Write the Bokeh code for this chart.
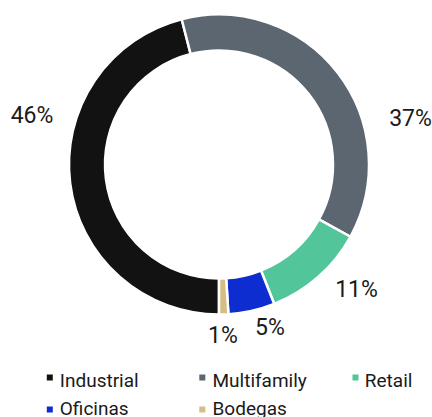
import math
from bokeh.plotting import figure
from bokeh.models import Range1d, ColumnDataSource
from bokeh.core.properties import value
from bokeh.embed import file_html
from bokeh.resources import INLINE

# ---- data ----
categories = ["Industrial", "Multifamily", "Retail", "Oficinas", "Bodegas"]
shares = [46, 37, 11, 5, 1]
label_texts = ["46%", "37%", "11%", "5%", "1%"]
colors = ["#121212", "#5b6670", "#52c59b", "#0d2dd0", "#d5be84"]

# ---- layout constants ----
W, H = 432, 417
CX, CY = 218.5, 253.0
R_OUT, R_IN = 150.0, 114.0
FONT = "Roboto"

p = figure(width=W, height=H, output_backend="svg", toolbar_location=None,
           x_range=Range1d(0, W), y_range=Range1d(0, H),
           x_axis_location=None, y_axis_location=None, min_border=0)
p.grid.visible = False
p.outline_line_color = None
p.background_fill_color = "white"
p.border_fill_color = "white"

total = float(sum(shares))
starts, ends = [], []
cum = 0.0
for s in shares:
    a0 = -math.pi / 2 - 2 * math.pi * cum / total
    cum += s
    a1 = -math.pi / 2 - 2 * math.pi * cum / total
    starts.append(a0)
    ends.append(a1)

src = ColumnDataSource(dict(start=starts, end=ends, color=colors, cat=categories))
p.annular_wedge(x=CX, y=CY, inner_radius=R_IN, outer_radius=R_OUT,
                start_angle="start", end_angle="end", direction="clock",
                fill_color="color", line_color="white", line_width=2.5, source=src)

# percentage labels (positions placed as in the reference)
label_x = [31.5, 410, 356, 269.5, 222.5]
label_y = [302, 299, 128, 90, 82]
p.text(x=label_x, y=label_y, text=label_texts, text_font=value(FONT),
       text_font_size="23px", text_color="#1a1a1a", text_align="center",
       text_baseline="alphabetic")

# legend
leg_sq_x = [49.3, 201.8, 355.0, 49.3, 201.8]
leg_sq_y = [40, 40, 40, 8, 8]
leg_tx_x = [59.3, 212.0, 364.3, 59.3, 212.0]
leg_tx_y = [37, 37, 37, 9, 9]
p.rect(x=leg_sq_x, y=leg_sq_y, width=6, height=6, fill_color=colors, line_color=None)
p.text(x=leg_tx_x, y=leg_tx_y, text=categories, text_font=value(FONT),
       text_font_size="19px", text_color="#1a1a1a", text_align="left",
       text_baseline="alphabetic")

open("out.html", "w").write(file_html(p, INLINE))
